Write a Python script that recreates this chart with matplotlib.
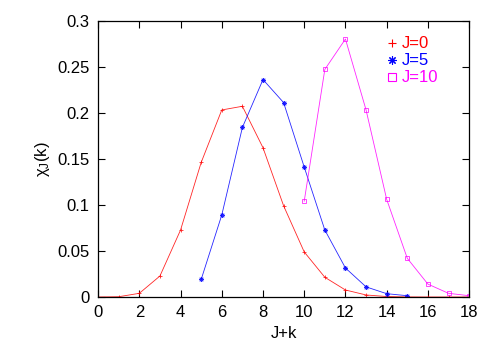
import matplotlib.pyplot as plt
from matplotlib.lines import Line2D

plt.rcParams['font.family'] = ['Liberation Sans', 'DejaVu Sans']

# J=0
x0 = list(range(0, 19))
y0 = [0.0, 0.0003, 0.004, 0.0228, 0.0727, 0.146, 0.203, 0.207, 0.162, 0.099,
      0.0489, 0.0214, 0.0076, 0.0022, 0.0005, 0.0001, 0.0, 0.0, 0.0]
# J=5
x5 = list(range(5, 16))
y5 = [0.019, 0.089, 0.184, 0.236, 0.211, 0.141, 0.0727, 0.0315, 0.011, 0.0036, 0.0014]
# J=10
x10 = list(range(10, 19))
y10 = [0.104, 0.247, 0.280, 0.203, 0.106, 0.042, 0.014, 0.004, 0.0014]

labels = ['J=0', 'J=5', 'J=10']
colors = ['#ff0000', '#0000ff', '#ff00ff']
markers = ['+', (8, 2, 0), 's']

fig = plt.figure(figsize=(4.98, 3.49), dpi=100)
ax = fig.add_axes([0.197, 0.149, 0.745, 0.792])

for (xs, ys), c, m in zip([(x0, y0), (x5, y5), (x10, y10)], colors, markers):
    mfc = 'none' if m == 's' else c
    ax.plot(xs, ys, color=c, lw=0.6, alpha=0.85, marker=m, ms=3.5, mew=0.6, mfc=mfc)

ax.set_xlim(0, 18)
ax.set_ylim(0, 0.3)
ax.set_xticks(range(0, 19, 2))
ax.set_yticks([0, 0.05, 0.1, 0.15, 0.2, 0.25, 0.3])
ax.set_yticklabels(['0', '0.05', '0.1', '0.15', '0.2', '0.25', '0.3'])
ax.tick_params(direction='in', top=True, right=True, length=5, width=0.8,
               labelsize=12, pad=6)
for s in ax.spines.values():
    s.set_linewidth(0.9)
ax.set_xlabel('J+k', fontsize=12)
ax.set_ylabel(r'$\mathregular{\chi_J}$(k)', fontsize=12)

handles = [Line2D([], [], ls='none', marker=m, color=c, ms=6, mew=0.8,
                  mfc='none' if m == 's' else c)
           for c, m in zip(colors, markers)]
leg = ax.legend(handles, labels, loc='upper right', bbox_to_anchor=(0.918, 0.943),
                frameon=False, fontsize=12, handlelength=0.6, handletextpad=0.3,
                labelspacing=0.12, borderaxespad=0.0, borderpad=0.0)
for t, c in zip(leg.get_texts(), colors):
    t.set_color(c)

fig.savefig('out.png', dpi=100)
